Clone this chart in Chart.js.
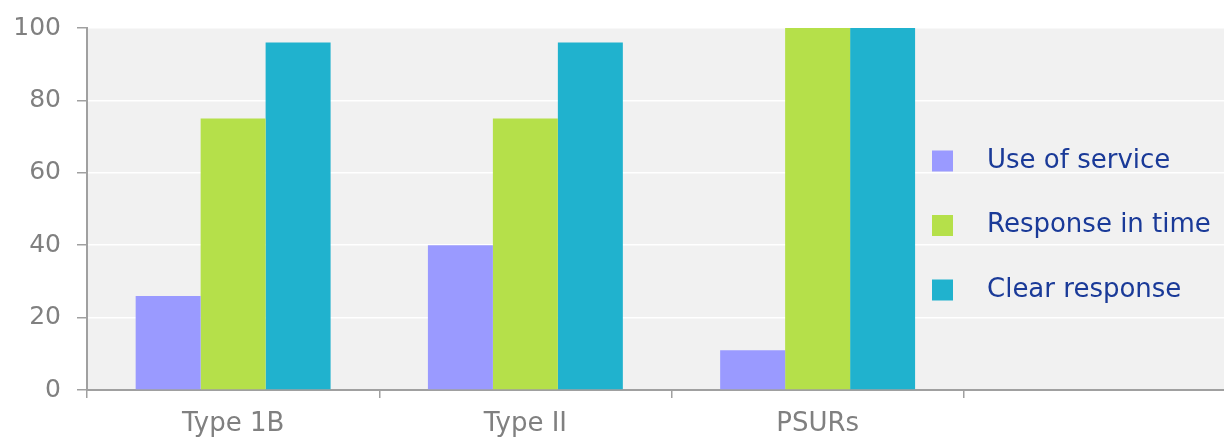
<!DOCTYPE html>
<html>
<head>
<meta charset="utf-8">
<script src="https://cdn.jsdelivr.net/npm/chart.js@4"></script>
<style>
  html, body { margin: 0; padding: 0; background: #fff; overflow: hidden; }
  #wrap { position: relative; width: 1256px; height: 439px; }
</style>
</head>
<body>
<div id="wrap"><canvas id="chart"></canvas></div>
<script>
const categories = ['Type 1B', 'Type II', 'PSURs', ''];
const useOfService = [26, 40, 11, null];
const responseInTime = [75, 75, 100, null];
const clearResponse = [96, 96, 100, null];
const seriesNames = ['Use of service', 'Response in time', 'Clear response'];
const seriesColors = ['#9a9aff', '#b5e04a', '#20b2ce'];
const yTicks = [0, 20, 40, 60, 80, 100];

const FONT = '"DejaVu Sans", Verdana, sans-serif';

// plot area background
const plotBg = {
  id: 'plotBg',
  beforeDraw(chart) {
    const { ctx, chartArea: a } = chart;
    ctx.save();
    ctx.fillStyle = '#f1f1f1';
    ctx.fillRect(a.left, a.top, a.right - a.left, a.bottom - a.top);
    ctx.restore();
  }
};

// legend drawn inside the plot, on the right
const innerLegend = {
  id: 'innerLegend',
  afterDatasetsDraw(chart) {
    const { ctx } = chart;
    ctx.save();
    ctx.font = '26px ' + FONT;
    ctx.textBaseline = 'middle';
    chart.data.datasets.forEach((ds, i) => {
      const y = 161 + i * 64.5;
      ctx.fillStyle = ds.backgroundColor;
      ctx.fillRect(932, y - 10.5, 21, 21);
      ctx.fillStyle = '#1a3a98';
      ctx.fillText(ds.label, 987, y);
    });
    ctx.restore();
  }
};

const data = {
  labels: categories,
  datasets: [
    { label: seriesNames[0], data: useOfService, backgroundColor: seriesColors[0] },
    { label: seriesNames[1], data: responseInTime, backgroundColor: seriesColors[1] },
    { label: seriesNames[2], data: clearResponse, backgroundColor: seriesColors[2] }
  ]
};

new Chart(document.getElementById('chart'), {
  type: 'bar',
  data: data,
  options: {
    responsive: true,
    maintainAspectRatio: false,
    animation: false,
    layout: { padding: { top: 28, right: 0, left: 0, bottom: 0 } },
    datasets: {
      bar: {
        categoryPercentage: 0.667,
        barPercentage: 1.0,
        borderWidth: 0
      }
    },
    plugins: {
      legend: { display: false },
      tooltip: { enabled: false }
    },
    scales: {
      x: {
        offset: true,
        grid: {
          offset: true,
          drawOnChartArea: false,
          tickLength: 8,
          tickColor: '#a0a0a0',
          lineWidth: 1.5
        },
        border: { color: '#a0a0a0', width: 2 },
        ticks: {
          color: '#808080',
          font: { family: FONT, size: 26 },
          padding: 11
        },
        afterFit(scale) { scale.height = 49; }
      },
      y: {
        min: 0,
        max: 100,
        afterBuildTicks(scale) { scale.ticks = yTicks.map(v => ({ value: v })); },
        grid: {
          color: '#ffffff',
          lineWidth: 1.5,
          tickLength: 10,
          tickColor: '#a0a0a0'
        },
        border: { color: '#a0a0a0', width: 2 },
        ticks: {
          color: '#808080',
          font: { family: FONT, size: 25 },
          padding: 16
        },
        afterFit(scale) {
          scale.width = 87;
          scale.paddingTop = 0;
          scale.paddingBottom = 0;
        }
      }
    }
  },
  plugins: [plotBg, innerLegend]
});
</script>
</body>
</html>
